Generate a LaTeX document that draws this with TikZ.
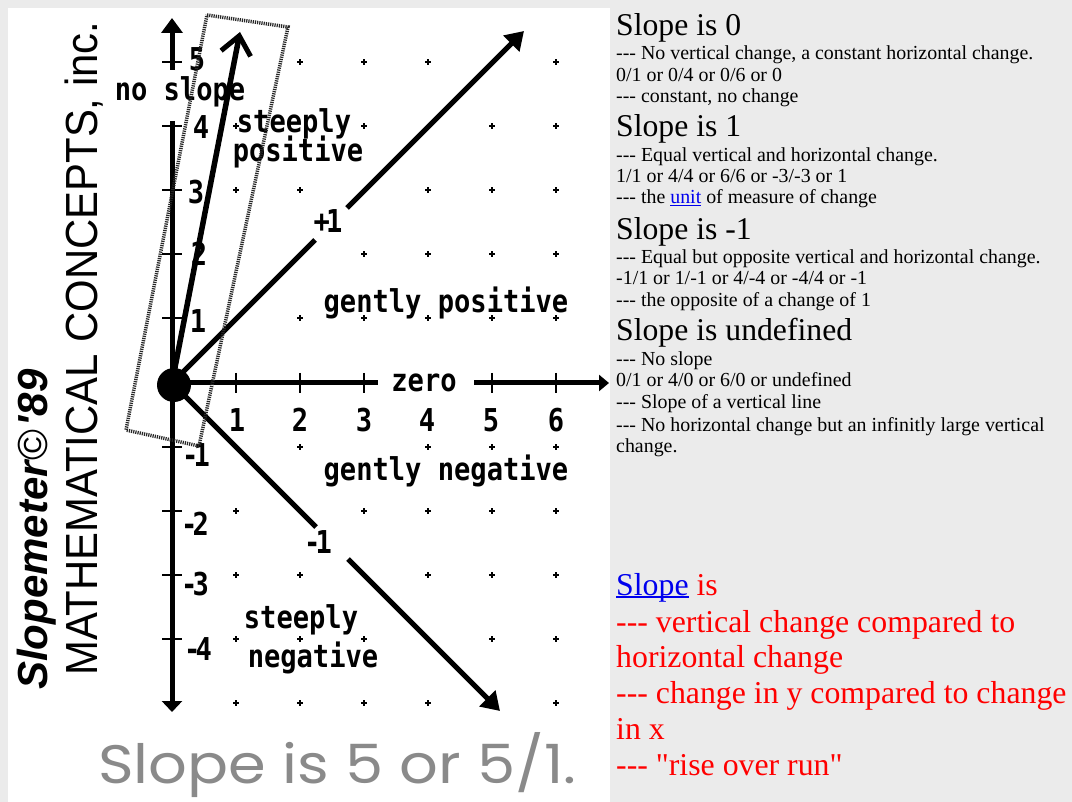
\documentclass[tikz,border=0pt]{standalone}
\usepackage{fontspec}
\usepackage{graphicx}
\usetikzlibrary{arrows.meta}
\newfontfamily\pixfont[FakeStretch=0.86]{DejaVu Sans Mono}
\newfontfamily\helv{Liberation Sans}
\newfontfamily\helvnarrow[FakeStretch=0.93]{Liberation Sans}
\newfontfamily\tnr{Liberation Serif}
\newfontfamily\geo{Poppins}
\definecolor{bg}{HTML}{EBEBEB}
\definecolor{linkblue}{HTML}{0000EE}
\definecolor{redtext}{HTML}{FF0000}
\definecolor{captiongray}{HTML}{8A8A8A}
\newcommand\weblink[1]{{\setbox0\hbox{#1}\color{linkblue}\rlap{\rule[-0.11em]{\wd0}{0.065em}}\box0}}
\tikzset{
  pix/.style={font=\pixfont\bfseries\fontsize{31.5}{34}\selectfont, inner sep=0pt, anchor=base},
  axisline/.style={line width=5pt},
  tickmark/.style={line width=2pt},
  gdot/.style={line width=1.7pt},
  slopeline/.style={line width=5pt},
  meter/.style={line width=3.5pt, black!85, dash pattern=on 1.2pt off 1.0pt},
  rtxt/.style={font=\tnr\fontsize{19.9}{22}\selectfont, anchor=base west, inner sep=0pt},
  rhead/.style={font=\tnr\fontsize{31.7}{34}\selectfont, anchor=base west, inner sep=0pt},
  rred/.style={font=\tnr\fontsize{31.8}{34}\selectfont, text=redtext, anchor=base west, inner sep=0pt},
}
\begin{document}
\begin{tikzpicture}[x=1pt,y=-1pt]
\useasboundingbox (0,0) rectangle (1072,802);
\fill[bg] (0,0) rectangle (1072,802);
\fill[white] (8,8) rectangle (610,802);

% named points
\coordinate (O) at (172,383);
\coordinate (vtopA) at (172,70);
\coordinate (vtopB) at (172,18);
\coordinate (vlowA) at (172,121);
\coordinate (vlowB) at (172,712);
\coordinate (hA) at (378,383);
\coordinate (hB) at (474,383);
\coordinate (hC) at (609,383);
\coordinate (pA) at (315,240);
\coordinate (pB) at (347,208);
\coordinate (pC) at (524,31);
\coordinate (nA) at (316,527);
\coordinate (nB) at (348,559);
\coordinate (nC) at (500,711);
\coordinate (sC) at (240,32);

% grid dots
\foreach \x/\y in {300/62,364/62,428/62,556/62,
  236/126,364/126,492/126,556/126,
  236/190,300/190,428/190,492/190,556/190,
  364/254,428/254,492/254,556/254,
  300/318,364/318,428/318,492/318,556/318,
  300/447,428/447,492/447,556/447,
  236/511,364/511,428/511,492/511,556/511,
  236/575,300/575,428/575,492/575,556/575,
  236/639,300/639,364/639,492/639,556/639,
  236/703,300/703,364/703,428/703,556/703}
  {\draw[gdot] (\x-2.7,\y) -- (\x+2.7,\y) (\x,\y-2.7) -- (\x,\y+2.7);}

% axes
\draw[axisline,-{Triangle[width=21pt,length=15pt]}] (vtopA) -- (vtopB);
\draw[axisline,-{Triangle[width=20pt,length=11pt]}] (vlowA) -- (vlowB);
\draw[axisline] (O) -- (hA);
\draw[axisline,-{Triangle[width=16pt,length=10pt]}] (hB) -- (hC);

% ticks
\foreach \y in {62,126,190,254,318,447,511,575,639}
  {\draw[tickmark] (162,\y) -- (182,\y);}
\foreach \x in {236,300,364,492,556}
  {\draw[tickmark] (\x,373) -- (\x,393);}

% slope +1 and -1
\draw[slopeline] (O) -- (pA);
\draw[slopeline,-{Triangle[width=22pt,length=18pt]}] (pB) -- (pC);
\draw[slopeline] (O) -- (nA);
\draw[slopeline,-{Triangle[width=22pt,length=18pt]}] (nB) -- (nC);

% axis numbers
\node[pix] (x1) at (237,432) {1};
\node[pix] (x2) at (300,432) {2};
\node[pix] (x3) at (364,432) {3};
\node[pix] (x4) at (427,432) {4};
\node[pix] (x5) at (491,432) {5};
\node[pix] (x6) at (556,432) {6};
\node[pix] (y5) at (197,71) {5};
\node[pix] (y4) at (201,139) {4};
\node[pix] (y3) at (196,204) {3};
\node[pix] (y2) at (199,266) {2};
\node[pix] (y1) at (198,333) {1};
\node[pix] (ym1) at (196,467) {-\kern-5pt1};
\node[pix] (ym2) at (195,535) {-\kern-5pt2};
\node[pix] (ym3) at (195,595) {-\kern-5pt3};
\node[pix] (ym4) at (198,660) {-\kern-5pt4};

% region labels
\node[pix] (noslope) at (180,101) {no slope};
\node[pix] (sp1) at (294,133) {steeply};
\node[pix] (sp2) at (298,162) {positive};
\node[pix] (plus1) at (328,233) {+\kern-4pt1};
\node[pix] (gpos) at (446,313) {gently positive};
\node[pix] (zero) at (424,392) {zero};
\node[pix] (gneg) at (446,480) {gently negative};
\node[pix] (minus1) at (318,553) {-\kern-5pt1};
\node[pix] (sn1) at (301,628) {steeply};
\node[pix] (sn2) at (313,667) {negative};

% steep arrow
\draw[line width=5.5pt,-{Straight Barb[length=18pt,width=30pt,line width=5pt]}] (O) -- (sC);

% slopemeter outline
\draw[meter] (207,15) -- (288,27) -- (199,446) -- (126,430) -- cycle;

% origin pivot
\fill (174,385) circle (17);

% rotated brand texts
\node[rotate=90, anchor=base west, inner sep=0pt, font=\helv\bfseries\itshape\fontsize{42}{44}\selectfont] (brand) at (47,690) {Slopemeter\kern1pt{\mdseries\upshape©}\kern3pt'89};
\node[rotate=90, anchor=base west, inner sep=0pt, font=\helvnarrow\fontsize{45}{48}\selectfont] (company) at (97,676) {MATHEMATICAL CONCEPTS, inc.};

% caption
\node[anchor=base west, inner sep=0pt, text=captiongray] (caption) at (98,783) {\resizebox{478pt}{51pt}{\geo Slope is 5 or 5/1.}};

% right panel
\node[rhead] (h0) at (616,36) {Slope is 0};
\node[rtxt] (t01) at (616,60) {-{}-{}- No vertical change, a constant horizontal change.};
\node[rtxt] (t02) at (616,82) {0/1 or 0/4 or 0/6 or 0};
\node[rtxt] (t03) at (616,103) {-{}-{}- constant, no change};
\node[rhead] (h1) at (616,137) {Slope is 1};
\node[rtxt] (t11) at (616,162) {-{}-{}- Equal vertical and horizontal change.};
\node[rtxt] (t12) at (616,183) {1/1 or 4/4 or 6/6 or -3/-3 or 1};
\node[rtxt] (t13) at (616,204) {-{}-{}- the \weblink{unit} of measure of change};
\node[rhead] (hm1) at (616,240) {Slope is -1};
\node[rtxt] (tm11) at (616,264) {-{}-{}- Equal but opposite vertical and horizontal change.};
\node[rtxt] (tm12) at (616,285) {-1/1 or 1/-1 or 4/-4 or -4/4 or -1};
\node[rtxt] (tm13) at (616,307) {-{}-{}- the opposite of a change of 1};
\node[rhead] (hu) at (616,341) {Slope is undefined};
\node[rtxt] (tu1) at (616,366) {-{}-{}- No slope};
\node[rtxt] (tu2) at (616,387) {0/1 or 4/0 or 6/0 or undefined};
\node[rtxt] (tu3) at (616,409) {-{}-{}- Slope of a vertical line};
\node[rtxt] (tu4) at (616,432) {-{}-{}- No horizontal change but an infinitly large vertical};
\node[rtxt] (tu5) at (616,453) {change.};

\node[rred] (r1) at (616,595) {\weblink{Slope} is};
\node[rred] (r2) at (616,632) {-{}-{}- vertical change compared to};
\node[rred] (r3) at (616,667) {horizontal change};
\node[rred] (r4) at (616,703) {-{}-{}- change in y compared to change};
\node[rred] (r5) at (616,739) {in x};
\node[rred] (r6) at (616,775) {-{}-{}- "rise over run"};
\end{tikzpicture}
\end{document}
